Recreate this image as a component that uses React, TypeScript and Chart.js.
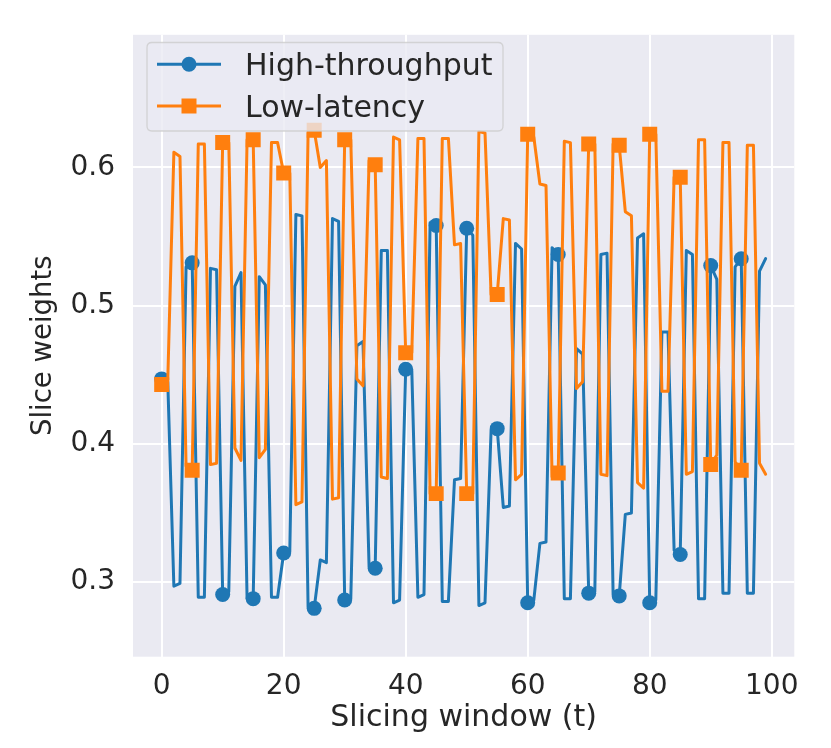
import React, { useEffect, useRef } from "react";
import { Chart, registerables } from "chart.js";

Chart.register(...registerables);

// Slice weights per slicing window t = 0..99
const highThroughput = [
  0.447, 0.445, 0.297, 0.299, 0.528, 0.531, 0.289, 0.289, 0.527, 0.526,
  0.291, 0.293, 0.514, 0.524, 0.288, 0.288, 0.521, 0.515, 0.289, 0.289,
  0.321, 0.322, 0.566, 0.565, 0.282, 0.281, 0.316, 0.314, 0.563, 0.561,
  0.287, 0.288, 0.471, 0.474, 0.311, 0.310, 0.540, 0.540, 0.285, 0.287,
  0.454, 0.453, 0.289, 0.291, 0.560, 0.558, 0.286, 0.286, 0.374, 0.375,
  0.556, 0.551, 0.283, 0.285, 0.410, 0.411, 0.354, 0.355, 0.545, 0.541,
  0.285, 0.287, 0.328, 0.329, 0.542, 0.537, 0.288, 0.288, 0.469, 0.465,
  0.292, 0.293, 0.537, 0.538, 0.291, 0.290, 0.349, 0.350, 0.549, 0.552,
  0.285, 0.287, 0.481, 0.481, 0.323, 0.320, 0.540, 0.537, 0.288, 0.288,
  0.529, 0.519, 0.292, 0.292, 0.528, 0.534, 0.292, 0.292, 0.525, 0.534,
];

const lowLatency = [
  0.443, 0.446, 0.611, 0.608, 0.384, 0.381, 0.617, 0.617, 0.385, 0.386,
  0.618, 0.618, 0.397, 0.388, 0.620, 0.620, 0.390, 0.396, 0.618, 0.618,
  0.596, 0.596, 0.356, 0.358, 0.625, 0.627, 0.600, 0.605, 0.360, 0.361,
  0.620, 0.620, 0.447, 0.442, 0.605, 0.602, 0.376, 0.375, 0.622, 0.620,
  0.466, 0.466, 0.621, 0.621, 0.364, 0.364, 0.621, 0.621, 0.544, 0.545,
  0.364, 0.364, 0.626, 0.625, 0.508, 0.508, 0.563, 0.562, 0.374, 0.378,
  0.624, 0.622, 0.588, 0.587, 0.376, 0.379, 0.619, 0.618, 0.440, 0.445,
  0.617, 0.617, 0.378, 0.377, 0.617, 0.616, 0.568, 0.565, 0.372, 0.368,
  0.624, 0.624, 0.438, 0.438, 0.593, 0.593, 0.378, 0.380, 0.620, 0.620,
  0.385, 0.392, 0.618, 0.618, 0.387, 0.381, 0.616, 0.616, 0.386, 0.378,
];

const seriesNames = ["High-throughput", "Low-latency"];
const seriesColors = ["#1f77b4", "#ff7f0e"];
const xTickValues = [0, 20, 40, 60, 80, 100];
const yTickValues = [0.3, 0.4, 0.5, 0.6];
const xLabel = "Slicing window (t)";
const yLabel = "Slice weights";
const markEvery = 5;

const FONT = "'DejaVu Sans', 'Liberation Sans', sans-serif";
const TEXT = "#262626";

export default function App() {
  const ref = useRef<HTMLCanvasElement>(null);

  useEffect(() => {
    if (!ref.current) return;

    const background = {
      id: "axesBackground",
      beforeDraw(chart: any) {
        const { ctx, chartArea } = chart;
        ctx.save();
        ctx.fillStyle = "#EAEAF2";
        ctx.fillRect(chartArea.left, chartArea.top, chartArea.right - chartArea.left, chartArea.bottom - chartArea.top);
        ctx.restore();
      },
    };

    const legendPlugin = {
      id: "mplLegend",
      afterDraw(chart: any) {
        const ctx = chart.ctx as CanvasRenderingContext2D;
        const bx = 147, by = 42.5, bw = 356, bh = 88.5, r = 5;
        ctx.save();
        ctx.beginPath();
        ctx.moveTo(bx + r, by);
        ctx.lineTo(bx + bw - r, by);
        ctx.quadraticCurveTo(bx + bw, by, bx + bw, by + r);
        ctx.lineTo(bx + bw, by + bh - r);
        ctx.quadraticCurveTo(bx + bw, by + bh, bx + bw - r, by + bh);
        ctx.lineTo(bx + r, by + bh);
        ctx.quadraticCurveTo(bx, by + bh, bx, by + bh - r);
        ctx.lineTo(bx, by + r);
        ctx.quadraticCurveTo(bx, by, bx + r, by);
        ctx.closePath();
        ctx.fillStyle = "rgba(234,234,242,0.8)";
        ctx.fill();
        ctx.strokeStyle = "rgba(204,204,204,0.8)";
        ctx.lineWidth = 1.3;
        ctx.stroke();

        const rows = [64.3, 106];
        seriesNames.forEach((name, i) => {
          const y = rows[i];
          ctx.strokeStyle = seriesColors[i];
          ctx.lineWidth = 3;
          ctx.beginPath();
          ctx.moveTo(157, y);
          ctx.lineTo(221, y);
          ctx.stroke();
          ctx.fillStyle = seriesColors[i];
          if (i === 0) {
            ctx.beginPath();
            ctx.arc(189, y, 7.5, 0, Math.PI * 2);
            ctx.fill();
          } else {
            ctx.fillRect(189 - 7.5, y - 7.5, 15, 15);
          }
          ctx.fillStyle = TEXT;
          ctx.font = `30px ${FONT}`;
          ctx.textBaseline = "alphabetic";
          ctx.textAlign = "left";
          ctx.fillText(name, 245, y + 10.8);
        });
        ctx.restore();
      },
    };

    const makeData = (arr: number[]) => arr.map((v, i) => ({ x: i, y: v }));

    const chart = new Chart(ref.current, {
      type: "line",
      data: {
        datasets: [
          {
            label: seriesNames[0],
            data: makeData(highThroughput),
            borderColor: seriesColors[0],
            backgroundColor: seriesColors[0],
            borderWidth: 3,
            borderJoinStyle: "round",
            borderCapStyle: "round",
            tension: 0,
            pointStyle: "circle",
            pointRadius: (c: any) => (c.dataIndex % markEvery === 0 ? 7.5 : 0),
            pointBorderWidth: 0,
            pointBackgroundColor: seriesColors[0],
            pointHoverRadius: 0,
            order: 1,
          },
          {
            label: seriesNames[1],
            data: makeData(lowLatency),
            borderColor: seriesColors[1],
            backgroundColor: seriesColors[1],
            borderWidth: 3,
            borderJoinStyle: "round",
            borderCapStyle: "round",
            tension: 0,
            pointStyle: "rect",
            pointRadius: (c: any) => (c.dataIndex % markEvery === 0 ? 10.6 : 0),
            pointBorderWidth: 0,
            pointBackgroundColor: seriesColors[1],
            pointHoverRadius: 0,
            order: 0,
          },
        ],
      },
      options: {
        animation: false,
        responsive: false,
        devicePixelRatio: 1,
        events: [],
        layout: { padding: { left: 0, top: 30, right: 36.7, bottom: 0 } },
        plugins: {
          legend: { display: false },
          tooltip: { enabled: false },
        },
        scales: {
          x: {
            type: "linear",
            min: -4.7,
            max: 103.7,
            afterBuildTicks: (s: any) => {
              s.ticks = xTickValues.map((v) => ({ value: v }));
            },
            afterFit: (s: any) => {
              s.height = 91.3;
            },
            ticks: {
              font: { family: FONT, size: 28 },
              color: TEXT,
              padding: 13,
              maxRotation: 0,
              autoSkip: false,
              callback: (v: any) => String(v),
            },
            grid: { color: "#ffffff", lineWidth: 2, drawTicks: false },
            border: { display: false },
            title: {
              display: true,
              text: xLabel,
              font: { family: FONT, size: 30 },
              color: TEXT,
              padding: { top: 0, bottom: 12.2 },
            },
          },
          y: {
            type: "linear",
            min: 0.246,
            max: 0.696,
            afterBuildTicks: (s: any) => {
              s.ticks = yTickValues.map((v) => ({ value: v }));
            },
            afterFit: (s: any) => {
              s.width = 133;
            },
            ticks: {
              font: { family: FONT, size: 28 },
              color: TEXT,
              padding: 18,
              autoSkip: false,
              callback: (v: any) => Number(v).toFixed(1),
            },
            grid: { color: "#ffffff", lineWidth: 2, drawTicks: false },
            border: { display: false },
            title: {
              display: true,
              text: yLabel,
              font: { family: FONT, size: 27.5 },
              color: TEXT,
              padding: { top: 27.5, bottom: 0 },
            },
          },
        },
      } as any,
      plugins: [background, legendPlugin],
    });

    return () => chart.destroy();
  }, []);

  return (
    <div style={{ position: "fixed", left: 0, top: 0, width: 831, height: 748, background: "#ffffff" }}>
      <canvas ref={ref} width={831} height={748} style={{ display: "block", width: 831, height: 748 }} />
    </div>
  );
}
